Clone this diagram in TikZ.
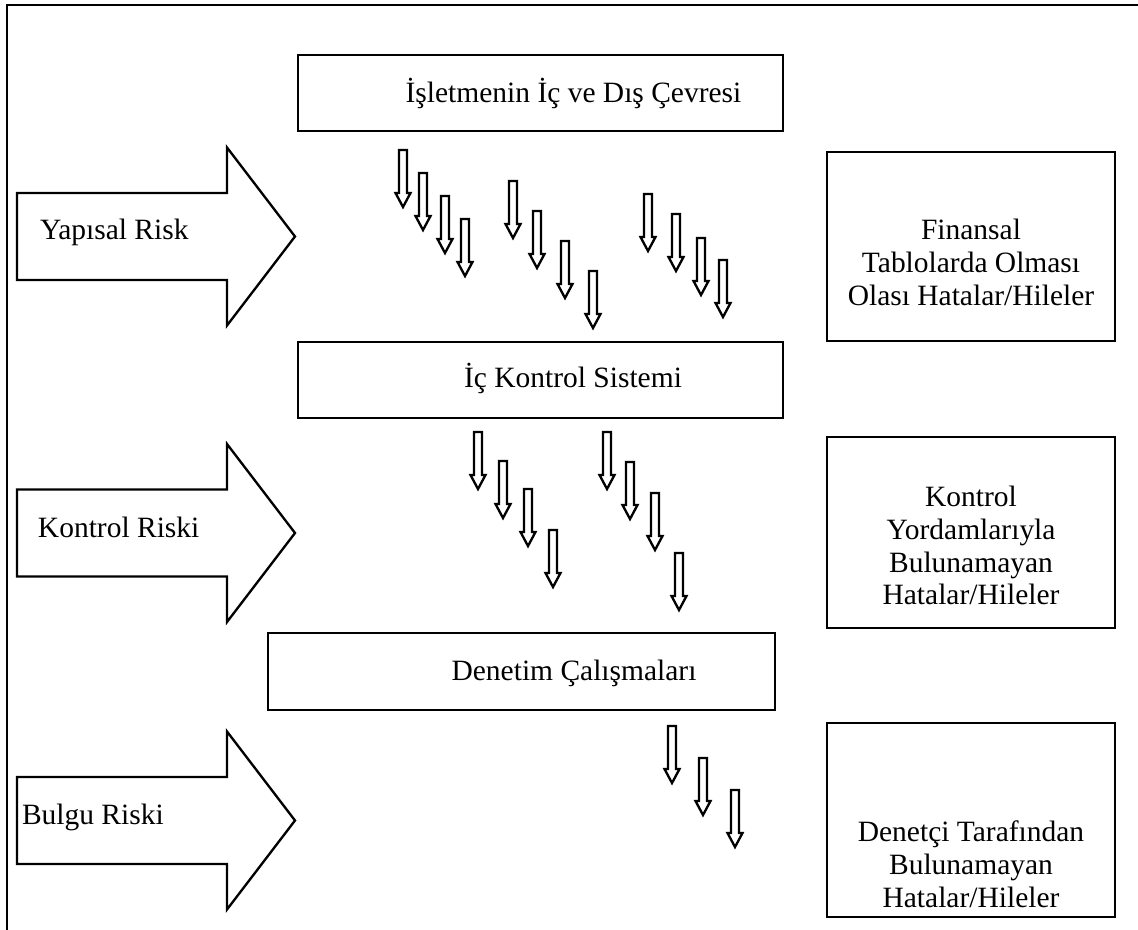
\documentclass[tikz,border=0pt]{standalone}
\usepackage{fontspec}
\setmainfont{Liberation Serif}
\begin{document}
\begin{tikzpicture}[x=0.407pt, y=-0.407pt,
  every node/.style={font=\fontsize{12pt}{13.4pt}\selectfont, inner sep=0pt, outer sep=0pt},
  outline/.style={draw=black, line width=0.95pt, fill=white, line join=miter},
  box/.style={draw=black, line width=0.9pt, fill=white, rectangle},
  boxsize/.style 2 args={minimum width={#1*0.407pt}, minimum height={#2*0.407pt}},
  frame/.style={draw=black, line width=1.1pt},
  label/.style={anchor=base},
  stack/.style={align=center, anchor=center},
  riskarrow/.pic={\draw[outline] (0,-43.5) -- (210,-43.5) -- (210,-89) -- (278,0)
                   -- (210,89) -- (210,43.5) -- (0,43.5) -- cycle;},
  flowarrow/.pic={\draw[outline] (-4,0) -- (4,0) -- (4,43) -- (7.5,43) -- (0,57)
                   -- (-7.5,43) -- (-4,43) -- cycle;}
]
\useasboundingbox (0,0) rectangle (1138,930);

% outer frame (open to the right and below)
\draw[frame] (7,930) -- (7,5) -- (1138,5);

% central stages
\node[box, boxsize={485}{76}] (env) at (540.5,93) {};
\node[label] (envtext) at (573.5,103) {İşletmenin İç ve Dış Çevresi};
\node[box, boxsize={485}{76}] (ics) at (540.5,380) {};
\node[label] (icstext) at (573,388) {İç Kontrol Sistemi};
\node[box, boxsize={507}{77}] (audit) at (521.5,671.5) {};
\node[label] (audittext) at (574,680) {Denetim Çalışmaları};

% outcome boxes on the right
\node[box, boxsize={288}{189}] (fin) at (971,246.5) {};
\node[stack] (fintext) at (971,262.5) {Finansal\\Tablolarda Olması\\Olası Hatalar/Hileler};
\node[box, boxsize={288}{191}] (ctl) at (971,532.5) {};
\node[stack] (ctltext) at (971,545.5) {Kontrol\\Yordamlarıyla\\Bulunamayan\\Hatalar/Hileler};
\node[box, boxsize={288}{194}] (det) at (971,820) {};
\node[stack] (dettext) at (971,864) {Denetçi Tarafından\\Bulunamayan\\Hatalar/Hileler};

% risk arrows on the left
\pic at (17,236.5) {riskarrow};
\node[anchor=base west] (inherent) at (40,240) {Yapısal Risk};
\pic at (17,533) {riskarrow};
\node[anchor=base west] (control) at (38,537) {Kontrol Riski};
\pic at (17,820.5) {riskarrow};
\node[anchor=base west] (detection) at (22,824) {Bulgu Riski};

% small downward arrows: errors passing through each stage
\foreach \x/\y in {403/150, 423/173, 445/196, 465/219,
                   513/181, 537/211, 565/241, 593/271,
                   648/194, 676/214, 701/238, 723/260,
                   478/432, 503/461, 528/489, 553/530,
                   607/432, 630/462, 655/493, 679/553,
                   672/726, 703/758, 735/790}
  \pic at (\x,\y) {flowarrow};
\end{tikzpicture}
\end{document}
